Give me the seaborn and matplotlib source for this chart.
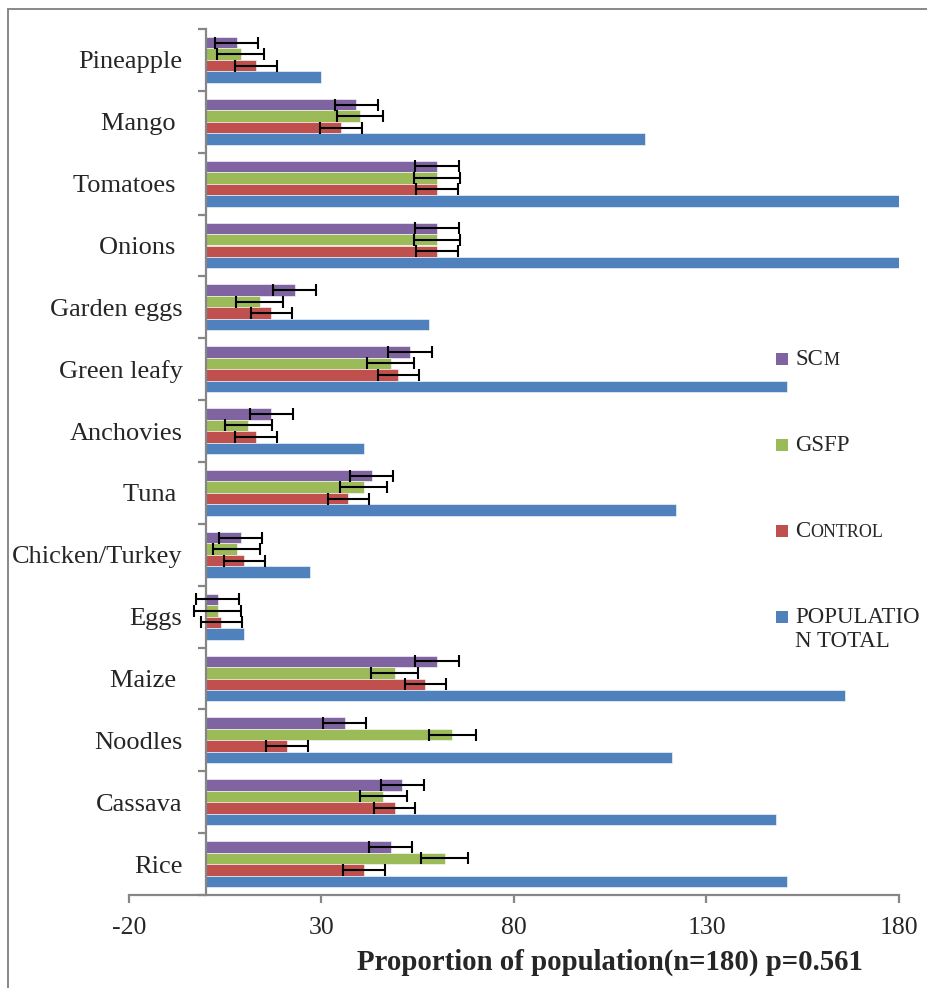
import numpy as np
import pandas as pd
import matplotlib
matplotlib.use("Agg")
import matplotlib.pyplot as plt
from matplotlib.patches import Rectangle
from matplotlib.lines import Line2D
from matplotlib.offsetbox import TextArea, DrawingArea, HPacker, VPacker, AnchoredOffsetbox
import seaborn as sns

# Food items, top to bottom
foods = ["Pineapple", "Mango ", "Tomatoes ", "Onions ", "Garden eggs", "Green leafy",
         "Anchovies", "Tuna ", "Chicken/Turkey", "Eggs", "Maize ", "Noodles",
         "Cassava", "Rice"]

# Number of people consuming each food, per group
scm = [8, 39, 60, 60, 23, 53, 17, 43, 9, 3, 60, 36, 51, 48]
gsfp = [9, 40, 60, 60, 14, 48, 11, 41, 8, 3, 49, 64, 46, 62]
control = [13, 35, 60, 60, 17, 50, 13, 37, 10, 4, 57, 21, 49, 41]
population = [30, 114, 180, 180, 58, 151, 41, 122, 27, 10, 166, 121, 148, 151]

# Fixed error amount per group
scm_err = 5.6
gsfp_err = 6.1
control_err = 5.4

groups = ["SCm", "GSFP", "Control", "Population total"]
colors = ["#8064A2", "#9BBB59", "#C0504D", "#4F81BD"]
x_ticks = [-20, 30, 80, 130, 180]
x_label = "Proportion of population(n=180) p=0.561"

df = pd.DataFrame({
    "Food": foods * 4,
    "Group": np.repeat(groups, len(foods)),
    "Value": scm + gsfp + control + population,
})
errors = {"SCm": scm_err, "GSFP": gsfp_err, "Control": control_err}

sns.set_style("white")
plt.rcParams["font.family"] = ["Liberation Serif", "DejaVu Serif"]
plt.rcParams["axes.unicode_minus"] = False

W, H = 928, 988
fig = plt.figure(figsize=(W / 100, H / 100), dpi=100)
ax = fig.add_axes([129 / W, 1 - 895 / H, (899 - 129) / W, (895 - 29) / H])

sns.barplot(data=df, y="Food", x="Value", hue="Group", order=foods,
            hue_order=groups, palette=colors, orient="h", width=0.74,
            errorbar=None, saturation=1, legend=False, ax=ax,
            edgecolor="white", linewidth=0.4)

# Error bars on the three study groups
for container, group in zip(ax.containers, groups):
    if group not in errors:
        continue
    xs = [b.get_width() for b in container]
    ys = [b.get_y() + b.get_height() / 2 for b in container]
    ax.errorbar(xs, ys, xerr=errors[group], fmt="none", ecolor="black",
                elinewidth=1.5, capsize=4.4, capthick=1.5, zorder=5)

ax.set_xlim(-20, 180)
ax.set_ylim(len(foods) - 0.5, -0.5)
ax.set_xticks(x_ticks)
ax.set_yticks(np.arange(-0.5, len(foods), 1), minor=True)

axis_gray = "#868686"
for side in ["top", "right"]:
    ax.spines[side].set_visible(False)
ax.spines["left"].set_position(("data", 0))
for side in ["left", "bottom"]:
    ax.spines[side].set_color(axis_gray)
    ax.spines[side].set_linewidth(1.6)

ax.tick_params(axis="y", which="major", length=0, pad=17, labelsize=19)
ax.tick_params(axis="y", which="minor", length=5.8, width=1.6, color=axis_gray,
               direction="out", left=True)
ax.tick_params(axis="x", which="major", length=5.8, width=1.6, color=axis_gray,
               direction="out", pad=10, labelsize=18.5, bottom=True)
ax.set_ylabel("")
ax.set_xlabel(x_label, fontsize=20.7, fontweight="bold")
ax.xaxis.set_label_coords(0.625, -0.062)
ax.grid(False)

# Legend with small-caps style labels
legend_rows = [
    [("SC", 16.5), ("M", 13)],
    [("GSFP", 16.5)],
    [("C", 16.5), ("ONTROL", 13)],
    [("POPULATIO", 16.5)],
]
legend_tops = [349, 435, 521, 607]
for row, top, color in zip(legend_rows, legend_tops, colors):
    square = DrawingArea(9, 9, 0, -2.5)
    square.add_artist(Rectangle((0, 0), 9, 9, facecolor=color, edgecolor="none"))
    label = HPacker(children=[TextArea(t, textprops=dict(fontsize=s)) for t, s in row],
                    align="baseline", pad=0, sep=0)
    entry = HPacker(children=[square, label], align="baseline", pad=0, sep=5)
    if row[0][0] == "POPULATIO":
        spacer = DrawingArea(9, 1, 0, 0)
        line2 = HPacker(children=[spacer, TextArea("N TOTAL", textprops=dict(fontsize=16.5))],
                        align="baseline", pad=0, sep=5)
        entry = VPacker(children=[entry, line2], align="left", pad=0, sep=2)
    anchored = AnchoredOffsetbox(loc="upper left", child=entry, pad=0, borderpad=0,
                                 frameon=False,
                                 bbox_to_anchor=(776 / W, 1 - top / H),
                                 bbox_transform=fig.transFigure)
    fig.add_artist(anchored)

# Chart area border
fig.add_artist(Line2D([8.5 / W, 8.5 / W], [0, 1 - 9 / H], transform=fig.transFigure,
                      color="#888888", linewidth=1.4))
fig.add_artist(Line2D([8.5 / W, 1], [1 - 9 / H, 1 - 9 / H], transform=fig.transFigure,
                      color="#888888", linewidth=1.4))

fig.savefig("out.png", dpi=100)
